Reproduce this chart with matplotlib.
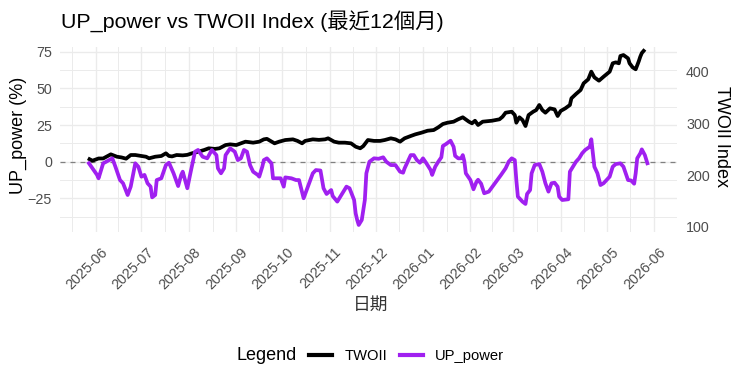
import matplotlib
matplotlib.use("Agg")
import matplotlib.pyplot as plt
import matplotlib.dates as mdates
from matplotlib.lines import Line2D
from matplotlib.transforms import ScaledTranslation
import pandas as pd
import numpy as np

plt.rcParams['font.family'] = ['Liberation Sans', 'Noto Sans CJK TC']

# ---------------- data ----------------
up_dates = [
    "2025-05-27", "2025-06-02", "2025-06-03", "2025-06-04", "2025-06-06", "2025-06-08",
    "2025-06-12", "2025-06-14", "2025-06-17", "2025-06-19", "2025-06-22", "2025-06-24",
    "2025-06-27", "2025-06-29", "2025-07-01", "2025-07-03", "2025-07-05", "2025-07-07",
    "2025-07-08", "2025-07-10", "2025-07-11", "2025-07-14", "2025-07-17", "2025-07-19",
    "2025-07-22", "2025-07-25", "2025-07-27", "2025-07-28", "2025-07-31", "2025-08-02",
    "2025-08-05", "2025-08-07", "2025-08-10", "2025-08-13", "2025-08-16", "2025-08-19",
    "2025-08-20", "2025-08-22", "2025-08-24", "2025-08-25", "2025-08-28", "2025-08-31",
    "2025-09-02", "2025-09-04", "2025-09-06", "2025-09-08", "2025-09-10", "2025-09-12",
    "2025-09-15", "2025-09-16", "2025-09-18", "2025-09-19", "2025-09-21", "2025-09-24",
    "2025-09-25", "2025-09-28", "2025-09-30", "2025-10-02", "2025-10-03", "2025-10-07",
    "2025-10-10", "2025-10-12", "2025-10-15", "2025-10-17", "2025-10-21", "2025-10-23",
    "2025-10-26", "2025-10-28", "2025-10-30", "2025-11-02", "2025-11-03", "2025-11-06",
    "2025-11-08", "2025-11-12", "2025-11-14", "2025-11-17", "2025-11-18", "2025-11-19",
    "2025-11-20", "2025-11-22", "2025-11-24", "2025-11-25", "2025-11-27", "2025-11-30",
    "2025-12-03", "2025-12-06", "2025-12-08", "2025-12-11", "2025-12-14", "2025-12-17",
    "2025-12-19", "2025-12-20", "2025-12-22", "2025-12-24", "2025-12-26", "2025-12-28",
    "2025-12-30", "2026-01-01", "2026-01-03", "2026-01-06", "2026-01-07", "2026-01-09",
    "2026-01-11", "2026-01-13", "2026-01-14", "2026-01-16", "2026-01-19", "2026-01-21",
    "2026-01-22", "2026-01-24", "2026-01-26", "2026-01-27", "2026-01-28", "2026-01-29",
    "2026-02-01", "2026-02-03", "2026-02-05", "2026-02-06", "2026-02-08", "2026-02-10",
    "2026-02-13", "2026-02-17", "2026-02-21", "2026-02-24", "2026-02-26", "2026-02-28",
    "2026-03-02", "2026-03-03", "2026-03-04", "2026-03-07", "2026-03-09", "2026-03-10",
    "2026-03-12", "2026-03-13", "2026-03-15", "2026-03-18", "2026-03-20", "2026-03-22",
    "2026-03-24", "2026-03-26", "2026-03-28", "2026-03-30", "2026-03-31", "2026-04-02",
    "2026-04-06", "2026-04-07", "2026-04-09", "2026-04-11", "2026-04-13", "2026-04-15",
    "2026-04-17", "2026-04-20", "2026-04-21", "2026-04-22", "2026-04-23", "2026-04-25",
    "2026-04-27", "2026-04-29", "2026-05-03", "2026-05-05", "2026-05-07", "2026-05-10",
    "2026-05-12", "2026-05-15", "2026-05-17", "2026-05-19", "2026-05-20", "2026-05-21",
    "2026-05-23", "2026-05-24", "2026-05-26", "2026-05-28",
]
up_values = [
    0, -9, -11.3, -7.9, -1.1, 0,
    2.3, -3.4, -12.5, -14.7, -22.7, -17,
    -1.1, -3.4, -10.2, -9, -14.7, -17,
    -24.3, -22.7, -12.5, -11.3, -2.3, -0.7,
    -7.9, -16.6, -9, -6.8, -18.1, -7.9,
    6.8, 8, 3.4, 2.3, 8, 4.5,
    -4.5, -7.9, -4.5, 4.5, 9.1, 6.8,
    1.1, 2.3, 8, 6.8, -2.3, -6.8,
    -9, -10.2, -3.4, 1.1, 2.3, -1.1,
    -11.3, -11.3, -11.3, -17, -10.7, -11.3,
    -12.5, -12.5, -24.9, -19.3, -7.9, -5.7,
    -6, -18.1, -22, -19.3, -23.4, -27.2,
    -23.8, -17, -18.1, -26.1, -35.2, -39.7,
    -43.1, -39.7, -26.1, -7.9, 0, 2.3,
    2, 3, 0, -2.3, -2.3, -6.8,
    -7.5, -4.5, 0, 4.5, 4.5, 1.1,
    -0.7, 2.3, -0.7, -5.7, -9, -3.4,
    0, 3, 10.7, 12, 14.3, 10.2,
    4, 2.3, 2.3, 4.5, 0.5, -7.9,
    -12.5, -18.8, -13.6, -12.3, -15, -21.5,
    -20.4, -14.7, -9, -4.5, 0, 2.3,
    1.1, -12.5, -23.8, -27.2, -28.8, -22,
    -19.3, -7.9, -2.3, -1.6, -6.8, -14.7,
    -20.4, -14.7, -14.3, -17, -23.8, -26.1,
    -25.6, -6.8, -3.4, 0, 2.3, 5.7,
    8, 10.2, 15.3, 5.7, -3.4, -7.9,
    -15.9, -14.7, -10.2, -3.4, -1.6, -1.1,
    -3.4, -12.5, -12.8, -15, -7.9, 2.3,
    5.7, 8.4, 4.5, -2.3,
]

twoii_dates = [
    "2025-05-27", "2025-05-30", "2025-06-03", "2025-06-06", "2025-06-09", "2025-06-11",
    "2025-06-15", "2025-06-18", "2025-06-21", "2025-06-24", "2025-06-27", "2025-07-01",
    "2025-07-04", "2025-07-06", "2025-07-10", "2025-07-14", "2025-07-17", "2025-07-19",
    "2025-07-21", "2025-07-24", "2025-07-28", "2025-07-31", "2025-08-03", "2025-08-07",
    "2025-08-11", "2025-08-14", "2025-08-18", "2025-08-21", "2025-08-25", "2025-08-28",
    "2025-09-01", "2025-09-04", "2025-09-07", "2025-09-12", "2025-09-16", "2025-09-19",
    "2025-09-21", "2025-09-26", "2025-09-29", "2025-10-03", "2025-10-08", "2025-10-11",
    "2025-10-14", "2025-10-16", "2025-10-21", "2025-10-25", "2025-10-29", "2025-10-31",
    "2025-11-04", "2025-11-07", "2025-11-11", "2025-11-15", "2025-11-18", "2025-11-21",
    "2025-11-23", "2025-11-26", "2025-11-30", "2025-12-04", "2025-12-07", "2025-12-11",
    "2025-12-14", "2025-12-17", "2025-12-20", "2025-12-24", "2025-12-27", "2025-12-31",
    "2026-01-04", "2026-01-08", "2026-01-11", "2026-01-14", "2026-01-17", "2026-01-21",
    "2026-01-24", "2026-01-27", "2026-01-31", "2026-02-02", "2026-02-04", "2026-02-06",
    "2026-02-09", "2026-02-15", "2026-02-20", "2026-02-22", "2026-02-24", "2026-02-28",
    "2026-03-02", "2026-03-03", "2026-03-05", "2026-03-07", "2026-03-09", "2026-03-11",
    "2026-03-14", "2026-03-16", "2026-03-18", "2026-03-20", "2026-03-22", "2026-03-25",
    "2026-03-28", "2026-03-30", "2026-04-01", "2026-04-04", "2026-04-07", "2026-04-08",
    "2026-04-11", "2026-04-14", "2026-04-16", "2026-04-19", "2026-04-21", "2026-04-23",
    "2026-04-26", "2026-04-29", "2026-05-03", "2026-05-05", "2026-05-07", "2026-05-09",
    "2026-05-10", "2026-05-12", "2026-05-15", "2026-05-16", "2026-05-18", "2026-05-20",
    "2026-05-22", "2026-05-23", "2026-05-24", "2026-05-26",
]
twoii_values = [
    232.3, 227.7, 232, 232, 236.8, 240,
    235.4, 234, 231.6, 238.7, 238.7, 236.8,
    235.4, 232.3, 235.4, 236.8, 242, 236.8,
    236, 238.7, 238, 239, 242, 245,
    248.4, 251.7, 250.5, 251.7, 258, 259.3,
    258, 261.3, 264.5, 262.6, 264.5, 269,
    270, 261.3, 264.5, 267.7, 269, 266,
    261.3, 266, 269, 268, 269, 271,
    264.5, 262.6, 262.6, 261.3, 254.8, 251.7,
    256, 267.7, 266, 266, 267.7, 271,
    269, 264.5, 271, 275.5, 278.7, 281.9,
    285.7, 287, 292.3, 298.7, 301.2, 303.2,
    307.8, 311.7, 303.2, 300, 305, 296.8,
    303.2, 305, 307.8, 312.8, 320.6, 322.5,
    316, 301.2, 311.7, 306.5, 294.8, 316,
    322.5, 325.7, 335.5, 325.7, 320.6, 329,
    327, 314.2, 324, 329, 335.5, 348.4,
    356.8, 364.5, 377.5, 385.2, 400, 389,
    382.5, 390.2, 400, 416.2, 418, 416.2,
    430.3, 432.2, 425.8, 416.2, 408.4, 404.6,
    420, 429, 436, 443,
]

title = "UP_power vs TWOII Index (最近12個月)"
left_ticks = [-25, 0, 25, 50, 75]
right_ticks = [100, 200, 300, 400]

# ---------------- figure ----------------
W, H = 742, 388
fig = plt.figure(figsize=(W / 100, H / 100), dpi=100)
L, R, T, B = 60, 677, 46.5, 232
ax = fig.add_axes([L / W, 1 - B / H, (R - L) / W, (B - T) / H])
ax2 = ax.twinx()   # TWOII axis (right)
ax3 = ax.twinx()   # top layer for UP_power line, shares scale with ax

up_x = pd.to_datetime(up_dates)
tw_x = pd.to_datetime(twoii_dates)

ax.set_xlim(pd.Timestamp("2025-05-08 19:00"), pd.Timestamp("2026-06-14 05:00"))
ax.set_ylim(-47.9, 78.5)
ax3.set_ylim(-47.9, 78.5)
ax2.set_ylim(89.7, 448.7)

purple = "#A020F0"
LW = 2.7
ax.axhline(0, color="#808080", lw=0.9, ls=(0, (4, 4)), zorder=1)
ax2.plot(tw_x, twoii_values, color="black", lw=LW, solid_joinstyle="round",
         solid_capstyle="butt", clip_on=False)
ax3.plot(up_x, up_values, color=purple, lw=LW, solid_joinstyle="round",
         solid_capstyle="butt")
ax3.set_axis_off()

# grid / ticks
majors = pd.date_range("2025-06-01", "2026-06-01", freq="MS")
mstarts = mdates.date2num(pd.date_range("2025-05-01", "2026-07-01", freq="MS"))
minors = (mstarts[:-1] + mstarts[1:]) / 2
ax.set_xticks(majors)
ax.set_xticks(minors, minor=True)
ax.xaxis.set_major_formatter(mdates.DateFormatter("%Y-%m"))
ax.set_yticks(left_ticks)
ax.set_yticks([-37.5, -12.5, 12.5, 37.5, 62.5], minor=True)
ax2.set_yticks(right_ticks)

ax.set_axisbelow(True)
ax.grid(which="major", color="#EBEBEB", lw=1.0)
ax.grid(which="minor", color="#EBEBEB", lw=0.7)

for a in (ax, ax2, ax3):
    for s in a.spines.values():
        s.set_visible(False)

TICK_FS = 10.3
ax.tick_params(axis="both", which="both", length=0, colors="#4D4D4D", labelsize=TICK_FS)
ax.tick_params(axis="y", pad=5.8)
ax.tick_params(axis="x", pad=9.4)
ax2.tick_params(axis="y", length=0, colors="#4D4D4D", labelsize=TICK_FS, pad=6.5)

for lbl in ax.get_xticklabels():
    lbl.set_rotation(45)
    lbl.set_ha("right")
    lbl.set_va("top")
    lbl.set_rotation_mode("anchor")
    lbl.set_transform(lbl.get_transform() + ScaledTranslation(4.6 / 100, 0, fig.dpi_scale_trans))

# texts
AX_FS = 13.0
fig.text(61 / W, 1 - 27.3 / H, title, fontsize=15.4, color="black", ha="left", va="baseline")
fig.text(18.5 / W, 1 - 135 / H, "UP_power (%)", rotation=90, fontsize=AX_FS,
         color="black", ha="center", va="center")
fig.text(721.7 / W, 1 - 136.7 / H, "TWOII Index", rotation=270, fontsize=AX_FS,
         color="black", ha="center", va="center")
fig.text(371 / W, 1 - 305.5 / H, "日期", fontsize=12.8, color="#333333",
         ha="center", va="center")

# legend
LEG_FS = 10.6
fig.text(236.7 / W, 1 - 356 / H, "Legend", fontsize=AX_FS, color="black",
         ha="left", va="center")
handles = [Line2D([], [], color="black", lw=LW + 0.3), Line2D([], [], color=purple, lw=LW + 0.3)]
fig.legend(handles, ["TWOII", "UP_power"], ncol=2, loc="center left",
           bbox_to_anchor=(309.3 / W, 1 - 356 / H), frameon=False, fontsize=LEG_FS,
           handlelength=1.53, handletextpad=0.84, columnspacing=0.91,
           borderpad=0, borderaxespad=0)

fig.savefig("out.png", dpi=100)
